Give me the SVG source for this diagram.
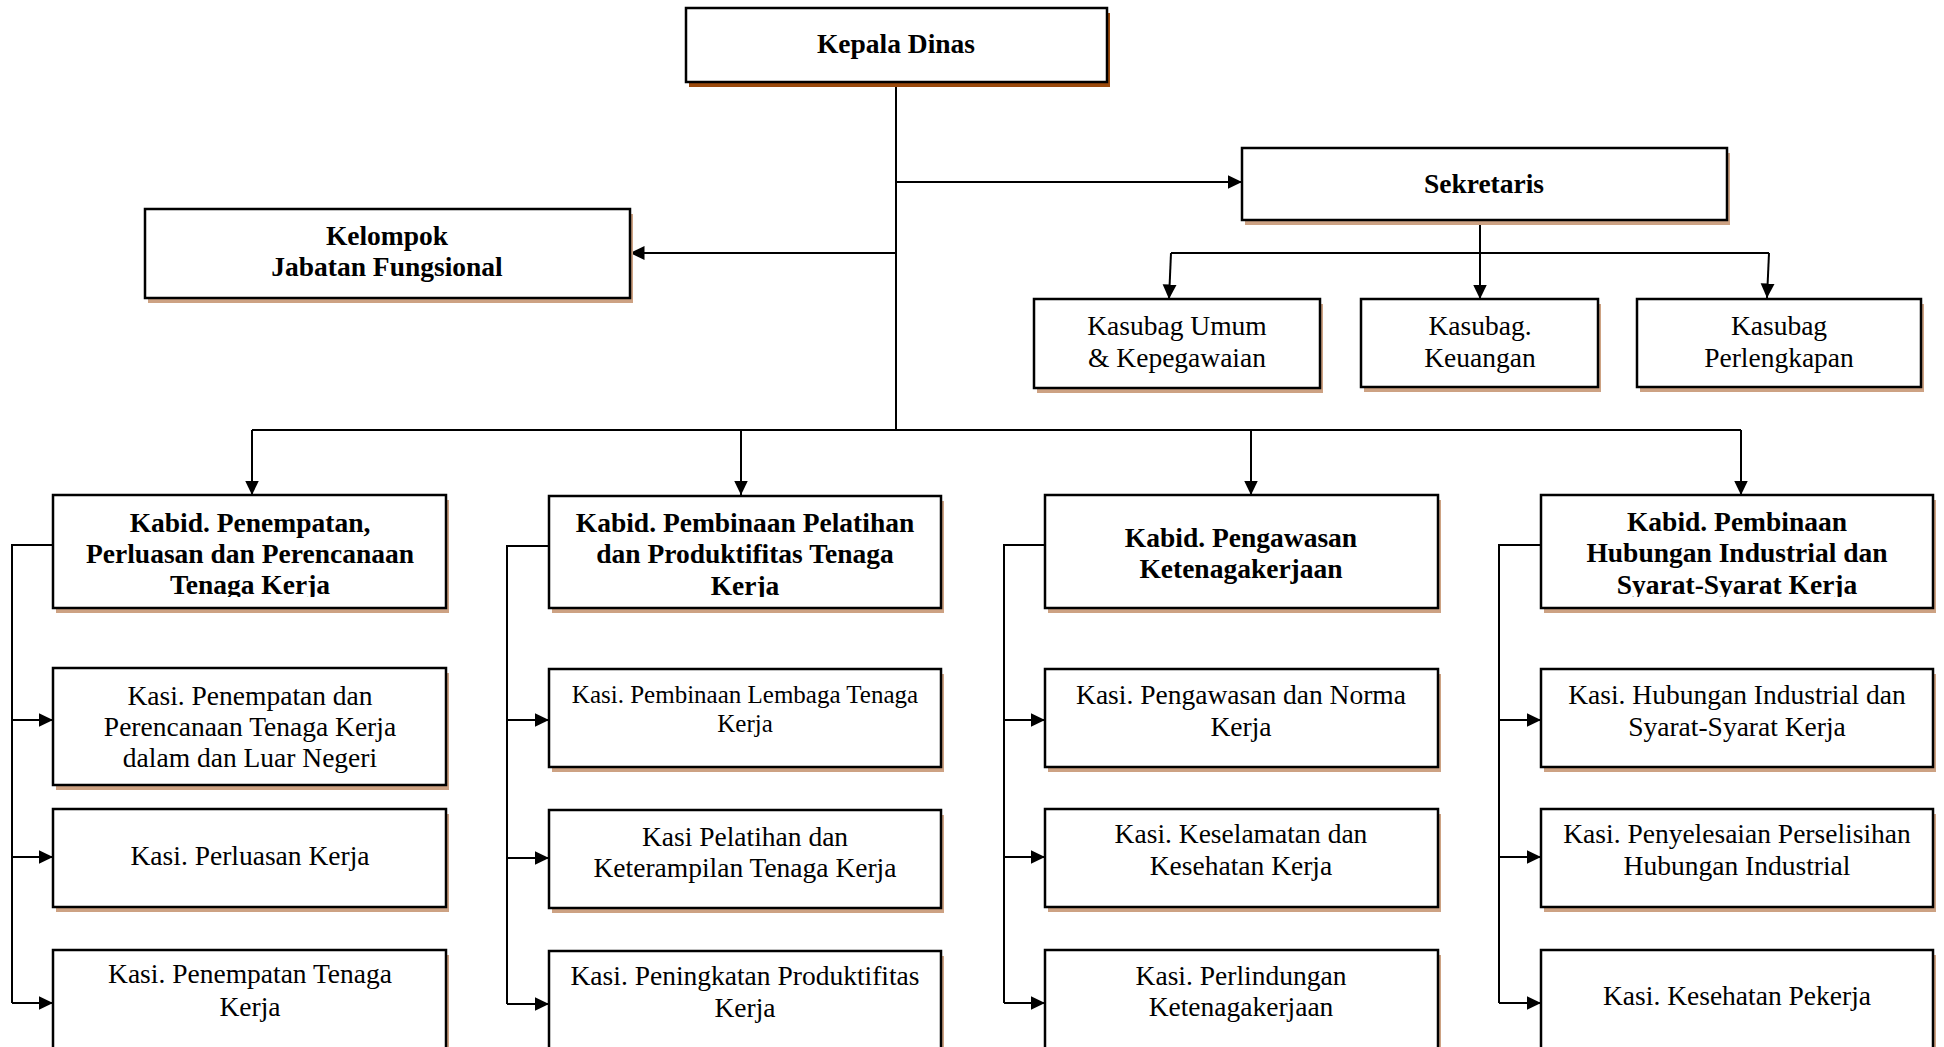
<svg xmlns="http://www.w3.org/2000/svg" width="1944" height="1047" viewBox="0 0 1944 1047">
<style>
.box{fill:#fff;stroke:#000;stroke-width:2.5}
.sh{fill:#CDA283}
.sh2{fill:#9C4A0C}
.ln{fill:none;stroke:#000;stroke-width:2}
.t{font-family:"Liberation Serif","Times New Roman",serif;font-size:27.5px;fill:#000;text-anchor:middle}
.b{font-weight:bold}
.s{font-size:25px}
</style>
<defs>
<marker id="ah" markerUnits="userSpaceOnUse" markerWidth="15" markerHeight="15" refX="14.5" refY="7.5" orient="auto">
<path d="M0,0.5 L14.5,7.5 L0,14.5 z" fill="#000"/>
</marker>
<clipPath id="kc" clipPathUnits="userSpaceOnUse"><rect x="0" y="480" width="1944" height="117"/></clipPath>
</defs>
<rect width="1944" height="1047" fill="#fff"/>

<g id="connectors">
<path class="ln" d="M896,82 V430"/>
<path class="ln" d="M896,182 H1242" marker-end="url(#ah)"/>
<path class="ln" d="M896,253 H630" marker-end="url(#ah)"/>
<path class="ln" d="M252,430 H1741"/>
<path class="ln" d="M252,430 V495" marker-end="url(#ah)"/>
<path class="ln" d="M741,430 V495" marker-end="url(#ah)"/>
<path class="ln" d="M1251,430 V495" marker-end="url(#ah)"/>
<path class="ln" d="M1741,430 V495" marker-end="url(#ah)"/>
<path class="ln" d="M1480,220 V299" marker-end="url(#ah)"/>
<path class="ln" d="M1171,253 H1769"/>
<path class="ln" d="M1171,253 L1169,299" marker-end="url(#ah)"/>
<path class="ln" d="M1769,253 L1767,298" marker-end="url(#ah)"/>
<path class="ln" d="M53,545 H12 V1003"/>
<path class="ln" d="M12,720 H53" marker-end="url(#ah)"/>
<path class="ln" d="M12,857 H53" marker-end="url(#ah)"/>
<path class="ln" d="M12,1003 H53" marker-end="url(#ah)"/>
<path class="ln" d="M549,546 H507 V1004"/>
<path class="ln" d="M507,720 H549" marker-end="url(#ah)"/>
<path class="ln" d="M507,858 H549" marker-end="url(#ah)"/>
<path class="ln" d="M507,1004 H549" marker-end="url(#ah)"/>
<path class="ln" d="M1045,545 H1004 V1003"/>
<path class="ln" d="M1004,720 H1045" marker-end="url(#ah)"/>
<path class="ln" d="M1004,857 H1045" marker-end="url(#ah)"/>
<path class="ln" d="M1004,1003 H1045" marker-end="url(#ah)"/>
<path class="ln" d="M1541,545 H1499 V1003"/>
<path class="ln" d="M1499,720 H1541" marker-end="url(#ah)"/>
<path class="ln" d="M1499,857 H1541" marker-end="url(#ah)"/>
<path class="ln" d="M1499,1003 H1541" marker-end="url(#ah)"/>
</g>

<g id="kepala">
<rect class="sh2" x="689" y="13" width="421" height="74"/>
<rect class="box" x="686" y="8" width="421" height="74"/>
<text class="t b" x="896" y="53">Kepala Dinas</text>
</g>

<g id="sekretaris">
<rect class="sh" x="1245" y="153" width="485" height="72"/>
<rect class="box" x="1242" y="148" width="485" height="72"/>
<text class="t b" x="1484" y="193">Sekretaris</text>
</g>

<g id="kelompok">
<rect class="sh" x="148" y="214" width="485" height="89"/>
<rect class="box" x="145" y="209" width="485" height="89"/>
<text class="t b" x="387" y="245">Kelompok</text>
<text class="t b" x="387" y="276">Jabatan Fungsional</text>
</g>

<g id="kasubag-umum">
<rect class="sh" x="1037" y="304" width="286" height="89"/>
<rect class="box" x="1034" y="299" width="286" height="89"/>
<text class="t" x="1177" y="335">Kasubag Umum</text>
<text class="t" x="1177" y="367">&amp; Kepegawaian</text>
</g>

<g id="kasubag-keuangan">
<rect class="sh" x="1364" y="304" width="237" height="88"/>
<rect class="box" x="1361" y="299" width="237" height="88"/>
<text class="t" x="1480" y="335">Kasubag.</text>
<text class="t" x="1480" y="367">Keuangan</text>
</g>

<g id="kasubag-perlengkapan">
<rect class="sh" x="1640" y="304" width="284" height="88"/>
<rect class="box" x="1637" y="299" width="284" height="88"/>
<text class="t" x="1779" y="335">Kasubag</text>
<text class="t" x="1779" y="367">Perlengkapan</text>
</g>

<!-- Column 1 -->
<g id="kabid-1">
<rect class="sh" x="56" y="500" width="393" height="113"/>
<rect class="box" x="53" y="495" width="393" height="113"/>
<g clip-path="url(#kc)">
<text class="t b" x="250" y="532">Kabid. Penempatan,</text>
<text class="t b" x="250" y="563">Perluasan dan Perencanaan</text>
<text class="t b" x="250" y="594">Tenaga Kerja</text>
</g>
</g>
<g id="kasi-1-1">
<rect class="sh" x="56" y="673" width="393" height="117"/>
<rect class="box" x="53" y="668" width="393" height="117"/>
<text class="t" x="250" y="705">Kasi. Penempatan dan</text>
<text class="t" x="250" y="736">Perencanaan Tenaga Kerja</text>
<text class="t" x="250" y="767">dalam dan Luar Negeri</text>
</g>
<g id="kasi-1-2">
<rect class="sh" x="56" y="814" width="393" height="98"/>
<rect class="box" x="53" y="809" width="393" height="98"/>
<text class="t" x="250" y="865">Kasi. Perluasan Kerja</text>
</g>
<g id="kasi-1-3">
<rect class="sh" x="56" y="955" width="393" height="110"/>
<rect class="box" x="53" y="950" width="393" height="110"/>
<text class="t" x="250" y="983">Kasi. Penempatan Tenaga</text>
<text class="t" x="250" y="1016">Kerja</text>
</g>

<!-- Column 2 -->
<g id="kabid-2">
<rect class="sh" x="552" y="501" width="392" height="112"/>
<rect class="box" x="549" y="496" width="392" height="112"/>
<g clip-path="url(#kc)">
<text class="t b" x="745" y="532">Kabid. Pembinaan Pelatihan</text>
<text class="t b" x="745" y="563">dan Produktifitas Tenaga</text>
<text class="t b" x="745" y="595">Kerja</text>
</g>
</g>
<g id="kasi-2-1">
<rect class="sh" x="552" y="674" width="392" height="98"/>
<rect class="box" x="549" y="669" width="392" height="98"/>
<text class="t s" x="745" y="703">Kasi. Pembinaan Lembaga Tenaga</text>
<text class="t s" x="745" y="732">Kerja</text>
</g>
<g id="kasi-2-2">
<rect class="sh" x="552" y="815" width="392" height="98"/>
<rect class="box" x="549" y="810" width="392" height="98"/>
<text class="t" x="745" y="846">Kasi Pelatihan dan</text>
<text class="t" x="745" y="877">Keterampilan Tenaga Kerja</text>
</g>
<g id="kasi-2-3">
<rect class="sh" x="552" y="956" width="392" height="110"/>
<rect class="box" x="549" y="951" width="392" height="110"/>
<text class="t" x="745" y="985">Kasi. Peningkatan Produktifitas</text>
<text class="t" x="745" y="1017">Kerja</text>
</g>

<!-- Column 3 -->
<g id="kabid-3">
<rect class="sh" x="1048" y="500" width="393" height="113"/>
<rect class="box" x="1045" y="495" width="393" height="113"/>
<text class="t b" x="1241" y="547">Kabid. Pengawasan</text>
<text class="t b" x="1241" y="578">Ketenagakerjaan</text>
</g>
<g id="kasi-3-1">
<rect class="sh" x="1048" y="674" width="393" height="98"/>
<rect class="box" x="1045" y="669" width="393" height="98"/>
<text class="t" x="1241" y="704">Kasi. Pengawasan dan Norma</text>
<text class="t" x="1241" y="736">Kerja</text>
</g>
<g id="kasi-3-2">
<rect class="sh" x="1048" y="814" width="393" height="98"/>
<rect class="box" x="1045" y="809" width="393" height="98"/>
<text class="t" x="1241" y="843">Kasi. Keselamatan dan</text>
<text class="t" x="1241" y="875">Kesehatan Kerja</text>
</g>
<g id="kasi-3-3">
<rect class="sh" x="1048" y="955" width="393" height="110"/>
<rect class="box" x="1045" y="950" width="393" height="110"/>
<text class="t" x="1241" y="985">Kasi. Perlindungan</text>
<text class="t" x="1241" y="1016">Ketenagakerjaan</text>
</g>

<!-- Column 4 -->
<g id="kabid-4">
<rect class="sh" x="1544" y="500" width="392" height="113"/>
<rect class="box" x="1541" y="495" width="392" height="113"/>
<g clip-path="url(#kc)">
<text class="t b" x="1737" y="531">Kabid. Pembinaan</text>
<text class="t b" x="1737" y="562">Hubungan Industrial dan</text>
<text class="t b" x="1737" y="594">Syarat-Syarat Kerja</text>
</g>
</g>
<g id="kasi-4-1">
<rect class="sh" x="1544" y="674" width="392" height="98"/>
<rect class="box" x="1541" y="669" width="392" height="98"/>
<text class="t" x="1737" y="704">Kasi. Hubungan Industrial dan</text>
<text class="t" x="1737" y="736">Syarat-Syarat Kerja</text>
</g>
<g id="kasi-4-2">
<rect class="sh" x="1544" y="814" width="392" height="98"/>
<rect class="box" x="1541" y="809" width="392" height="98"/>
<text class="t" x="1737" y="843">Kasi. Penyelesaian Perselisihan</text>
<text class="t" x="1737" y="875">Hubungan Industrial</text>
</g>
<g id="kasi-4-3">
<rect class="sh" x="1544" y="955" width="392" height="110"/>
<rect class="box" x="1541" y="950" width="392" height="110"/>
<text class="t" x="1737" y="1005">Kasi. Kesehatan Pekerja</text>
</g>
</svg>
